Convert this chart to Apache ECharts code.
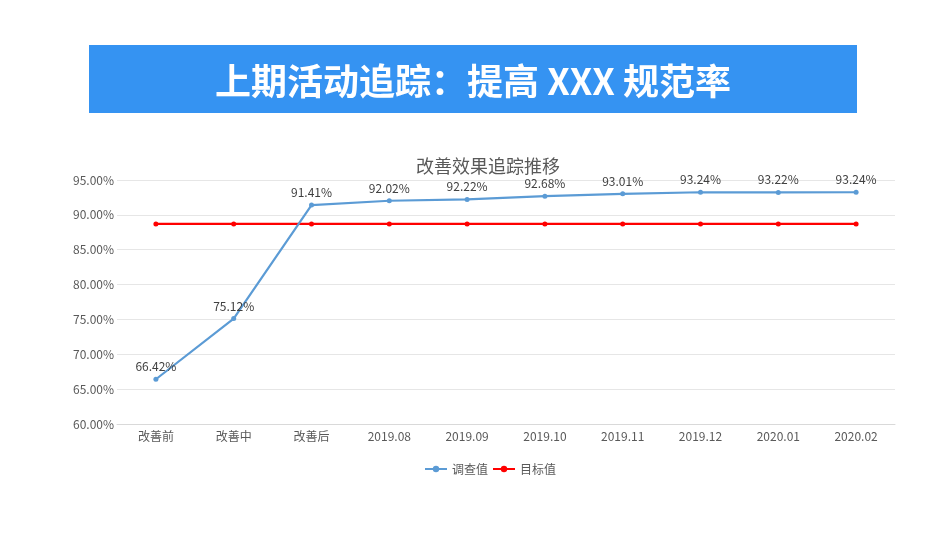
<!DOCTYPE html>
<html>
<head>
<meta charset="utf-8">
<script src="https://cdn.jsdelivr.net/npm/echarts@6/dist/echarts.min.js"></script>
<style>
html,body{margin:0;padding:0;background:#fff;}
#c{width:950px;height:535px;}
</style>
</head>
<body>
<div id="c"></div>
<script>
var categories = ['改善前','改善中','改善后','2019.08','2019.09','2019.10','2019.11','2019.12','2020.01','2020.02'];
var surveyValues = [66.42, 75.12, 91.41, 92.02, 92.22, 92.68, 93.01, 93.24, 93.22, 93.24];
var targetValues = [88.7, 88.7, 88.7, 88.7, 88.7, 88.7, 88.7, 88.7, 88.7, 88.7];
var seriesNames = ['调查值','目标值'];
var bannerText = '上期活动追踪：提高 XXX 规范率';
var chartTitle = '改善效果追踪推移';

var chart = echarts.init(document.getElementById('c'), null, {renderer:'canvas'});
var font = '"Microsoft YaHei","Noto Sans CJK SC",sans-serif';
chart.setOption({
  animation:false,
  backgroundColor:'#fff',
  graphic:[
    {type:'rect', shape:{x:89,y:45,width:768,height:68}, style:{fill:'#3593F2'}},
    {type:'text', x:473, y:81, style:{text:bannerText, fill:'#fff', font:'bold 36px "Noto Sans CJK SC", sans-serif', textAlign:'center', textVerticalAlign:'middle'}}
  ],
  title:{text:chartTitle, left:411, top:152, textStyle:{fontSize:18, fontWeight:'normal', color:'#595959', fontFamily:font}},
  legend:{bottom:55, left:419, itemWidth:22, itemHeight:8, itemGap:4, textStyle:{fontSize:12, color:'#595959', fontFamily:font}, data:seriesNames},
  grid:{left:117, right:55, top:180, height:244},
  xAxis:{type:'category', data:categories, boundaryGap:true,
    axisLine:{lineStyle:{color:'#D9D9D9'}}, axisTick:{show:false},
    axisLabel:{color:'#595959', fontSize:12, fontFamily:font, margin:6}},
  yAxis:{type:'value', min:60, max:95, interval:5,
    axisLine:{show:false}, axisTick:{show:false},
    splitLine:{lineStyle:{color:'#E6E6E6'}},
    axisLabel:{color:'#595959', fontSize:12, fontFamily:font, margin:3, formatter:function(v){return v.toFixed(2)+'%';}}},
  series:[
    {name:seriesNames[0], type:'line', data:surveyValues, symbol:'circle', symbolSize:5,
     itemStyle:{color:'#5B9BD5'}, lineStyle:{width:2.2, color:'#5B9BD5'},
     label:{show:true, position:'top', distance:4, color:'#404040', fontSize:12, fontFamily:font, formatter:function(p){return p.value.toFixed(2)+'%';}},
     z:3},
    {name:seriesNames[1], type:'line', data:targetValues, symbol:'circle', symbolSize:5,
     itemStyle:{color:'#FF0000'}, lineStyle:{width:2.2, color:'#FF0000'}, z:2}
  ]
});
</script>
</body>
</html>
